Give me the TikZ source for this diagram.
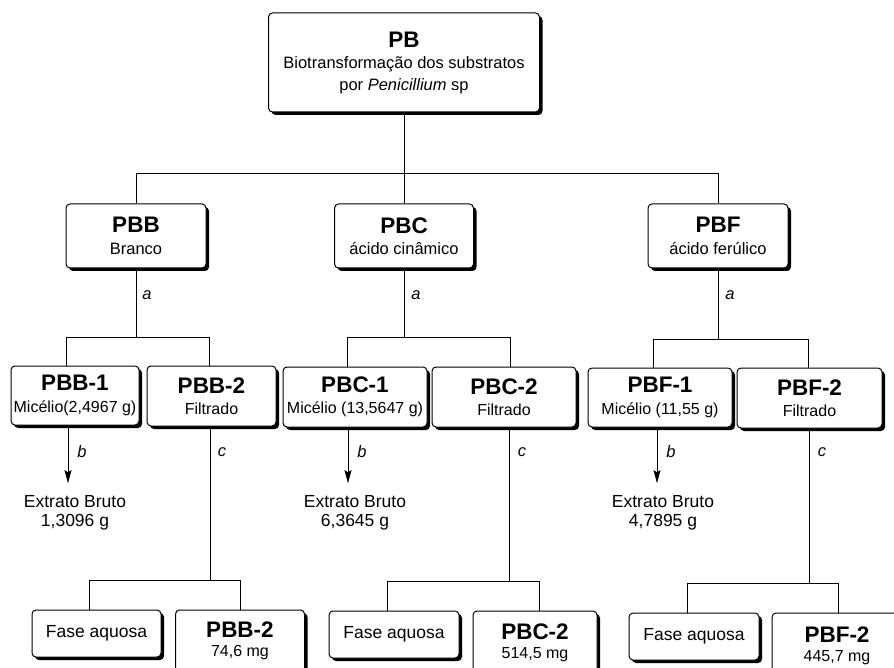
\documentclass[tikz,border=0pt]{standalone}
\usepackage{fontspec}
\setmainfont{Liberation Sans}
\usetikzlibrary{shadows,arrows.meta,calc}
\newcommand\ttl{\fontsize{22.5}{26}\selectfont\bfseries}
\begin{document}
\begin{tikzpicture}[x=1pt,y=-1pt,
  box/.style={draw,line width=1pt,rounded corners=4pt,fill=white,inner sep=0pt,align=center,
     font=\fontsize{16.5}{21.5}\selectfont,
     drop shadow={shadow xshift=3pt,shadow yshift=-3pt,fill=black,opacity=1}},
  boxtwo/.style={box,font=\fontsize{16}{21.5}\selectfont},
  boxlow/.style={box,font=\fontsize{16}{19}\selectfont},
  boxfa/.style={box,font=\fontsize{17.5}{20}\selectfont},
  conn/.style={line width=0.9pt},
  lab/.style={font=\fontsize{16.5}{20}\selectfont\itshape,inner sep=0pt},
  plain/.style={align=center,inner sep=0pt,font=\fontsize{17.5}{19.5}\selectfont},
  arr/.style={conn,shorten >=12pt,-{Stealth[length=13pt,width=7pt,inset=2pt]}}
]
\useasboundingbox (0,0) rectangle (894,668);
\clip (0,0) rectangle (894,668);

% top
\node[box,minimum width=271pt,minimum height=99pt] (PB) at (404,62.5)
  {{\ttl PB}\\Biotransformação dos substratos\\por \textit{Penicillium} sp};

% level 1
\node[box,minimum width=140pt,minimum height=64pt] (PBB) at (136,236) {{\ttl PBB}\\Branco};
\node[box,minimum width=139pt,minimum height=64pt] (PBC) at (404,236) {{\ttl PBC}\\ácido cinâmico};
\node[box,minimum width=140pt,minimum height=64pt] (PBF) at (718,236) {{\ttl PBF}\\ácido ferúlico};

% level 2
\node[boxtwo,minimum width=128pt,minimum height=59pt] (PBB1) at (75,395.5) {{\ttl PBB-1}\\Micélio(2,4967 g)};
\node[boxtwo,minimum width=129pt,minimum height=60pt] (PBB2) at (211.5,396) {{\ttl PBB-2}\\Filtrado};
\node[boxtwo,minimum width=144pt,minimum height=60pt] (PBC1) at (355,397) {{\ttl PBC-1}\\Micélio (13,5647 g)};
\node[boxtwo,minimum width=144pt,minimum height=60pt] (PBC2) at (504,397) {{\ttl PBC-2}\\Filtrado};
\node[boxtwo,minimum width=144pt,minimum height=59pt] (PBF1) at (660,397.5) {{\ttl PBF-1}\\Micélio (11,55 g)};
\node[boxtwo,minimum width=145pt,minimum height=60pt] (PBF2) at (809.5,398) {{\ttl PBF-2}\\Filtrado};

% extracts
\node[plain] (EB1) at (75,513) {Extrato Bruto\\1,3096 g};
\node[plain] (EB2) at (355,513) {Extrato Bruto\\6,3645 g};
\node[plain] (EB3) at (663,513) {Extrato Bruto\\4,7895 g};

% bottom
\node[boxfa,minimum width=129pt,minimum height=47pt] (FA1) at (96.5,633.5) {Fase aquosa};
\node[boxlow,minimum width=129pt,minimum height=62pt] (R1) at (240,641) {{\ttl PBB-2}\\74,6 mg};
\node[boxfa,minimum width=130pt,minimum height=47pt] (FA2) at (394,634.5) {Fase aquosa};
\node[boxlow,minimum width=124pt,minimum height=63pt] (R2) at (535,642.5) {{\ttl PBC-2}\\514,5 mg};
\node[boxfa,minimum width=130pt,minimum height=47pt] (FA3) at (694,636.5) {Fase aquosa};
\node[boxlow,minimum width=130pt,minimum height=66pt] (R3) at (837,646) {{\ttl PBF-2}\\445,7 mg};

% connectors top
\draw[conn] (PB.south) -- (PBC.north);
\draw[conn] (PBB.north) -- ++(0,-30) -| (PBF.north);

% level 1 -> level 2
\draw[conn] (PBB.south) -- ++(0,69) coordinate (jB);
\draw[conn] ([xshift=-9pt]PBB1.north) |- (jB) -| ([xshift=-2pt]PBB2.north);
\draw[conn] (PBC.south) -- ++(0,69) coordinate (jC);
\draw[conn] ([xshift=-8pt]PBC1.north) |- (jC) -| ([xshift=6pt]PBC2.north);
\draw[conn] (PBF.south) -- ++(0,71) coordinate (jF);
\draw[conn] ([xshift=-7pt]PBF1.north) |- (jF) -| ([xshift=-1pt]PBF2.north);

\node[lab] (aB) at (147,295) {a};
\node[lab] (aC) at (416,295) {a};
\node[lab] (aF) at (730,295) {a};

% arrows to extracts
\draw[arr] ([xshift=-7pt]PBB1.south) -- ([xshift=-7pt]PBB1.south |- EB1.north);
\draw[arr] ([xshift=-7pt]PBC1.south) -- ([xshift=-7pt]PBC1.south |- EB2.north);
\draw[arr] ([xshift=-3pt]PBF1.south) -- ([xshift=-3pt]PBF1.south |- EB3.north);
\node[lab] (bB) at (82,452) {b};
\node[lab] (bC) at (362,452) {b};
\node[lab] (bF) at (671,452) {b};

% filtrate branches
\draw[conn] ([xshift=-1.5pt]PBB2.south) -- ++(0,154) coordinate (kB);
\draw[conn] ([xshift=-7.5pt]FA1.north) |- (kB) -| (R1.north);
\draw[conn] ([xshift=5.5pt]PBC2.south) -- ++(0,154) coordinate (kC);
\draw[conn] ([xshift=-7pt]FA2.north) |- (kC) -| ([xshift=4pt]R2.north);
\draw[conn] ([xshift=-0.5pt]PBF2.south) -- ++(0,155) coordinate (kF);
\draw[conn] ([xshift=-7pt]FA3.north) |- (kF) -| ([xshift=1pt]R3.north);
\node[lab] (cB) at (222,452) {c};
\node[lab] (cC) at (522,452) {c};
\node[lab] (cF) at (822,452) {c};
\end{tikzpicture}
\end{document}
